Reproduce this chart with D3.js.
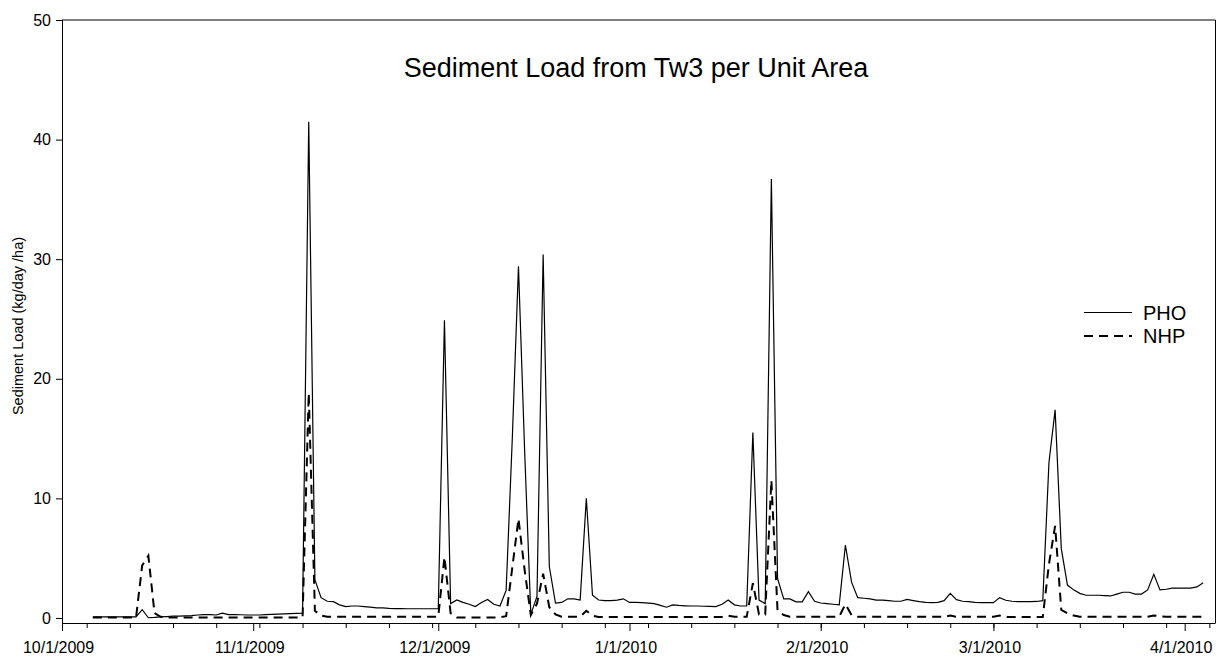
<!DOCTYPE html>
<html>
<head>
<meta charset="utf-8">
<script src="https://cdn.jsdelivr.net/npm/d3@7/dist/d3.min.js"></script>
<style>
  html, body { margin: 0; padding: 0; background: #fff; }
  svg { display: block; font-family: "Liberation Sans", Arial, sans-serif; }
</style>
</head>
<body>
<svg id="chart" width="1225" height="659"></svg>
<script>
// ---- data (daily values, first day 10/6/2009) ----
const startDate = "2009-10-06";
const pho = [
  0.1,0.1,0.1,0.1,0.1,0.1,0.1,0.1,
  0.7,0.02,0.05,0.1,0.12,0.15,0.15,0.18,0.2,0.25,0.28,0.28,0.25,0.4,0.28,0.28,0.27,0.25,0.25,0.25,0.28,0.3,0.32,0.34,0.36,0.38,0.4,
  41.5,3.2,1.7,1.4,1.36,1.1,0.95,1.0,1.0,0.95,0.9,0.85,0.84,0.8,0.78,0.78,0.77,0.77,0.77,0.77,0.77,0.77,
  24.9,1.2,1.5,1.3,1.15,0.95,1.3,1.55,1.15,1.0,2.3,15.0,29.4,14.0,0.3,1.8,30.4,4.3,1.25,1.3,1.6,1.6,1.5,10.0,1.9,1.5,1.45,1.45,1.5,1.6,
  1.3,1.3,1.28,1.25,1.2,1.05,0.9,1.1,1.05,1.02,1.0,1.0,0.98,0.97,0.95,1.15,1.5,1.1,1.0,1.0,15.5,1.5,1.2,36.7,3.3,1.6,1.6,1.35,1.35,2.2,1.4,
  1.25,1.2,1.15,1.1,6.1,3.0,1.7,1.65,1.6,1.5,1.5,1.45,1.4,1.4,1.55,1.45,1.36,1.3,1.28,1.3,1.45,2.06,1.53,1.4,1.36,1.3,1.28,1.28,
  1.28,1.7,1.48,1.4,1.36,1.36,1.36,1.38,1.45,13.0,17.4,5.8,2.75,2.35,2.06,1.9,1.9,1.9,1.87,1.84,2.0,2.15,2.15,2.0,2.0,2.35,3.65,2.35,2.4,2.5,2.5,2.5,2.5,2.6,2.95
];
const nhp = [
  0.03,0.03,0.03,0.03,0.03,0.03,0.03,0.03,
  4.4,5.2,0.4,0.1,0.05,0.05,0.05,0.05,0.05,0.05,0.05,0.05,0.05,0.05,0.05,0.05,0.05,0.05,0.05,0.05,0.05,0.05,0.05,0.05,0.05,0.05,0.05,
  18.8,0.6,0.2,0.1,0.1,0.1,0.1,0.1,0.1,0.1,0.1,0.1,0.1,0.1,0.1,0.1,0.1,0.1,0.1,0.1,0.1,0.1,
  5.1,0.4,0.05,0.05,0.05,0.05,0.05,0.05,0.05,0.05,0.15,4.2,8.3,4.0,0.25,1.2,3.7,0.9,0.3,0.1,0.1,0.1,0.1,0.6,0.2,0.08,0.08,0.08,0.08,0.08,
  0.08,0.08,0.08,0.08,0.08,0.08,0.08,0.08,0.08,0.08,0.08,0.08,0.08,0.08,0.08,0.08,0.2,0.1,0.1,0.1,2.9,0.3,0.3,11.5,0.6,0.25,0.1,0.1,0.1,0.1,0.1,
  0.1,0.1,0.1,0.12,1.15,0.25,0.1,0.1,0.1,0.1,0.1,0.1,0.1,0.1,0.1,0.1,0.1,0.1,0.1,0.1,0.1,0.2,0.1,0.1,0.1,0.1,0.1,0.1,
  0.1,0.2,0.08,0.08,0.08,0.08,0.08,0.08,0.08,4.5,7.7,0.67,0.4,0.2,0.1,0.1,0.1,0.1,0.1,0.1,0.1,0.1,0.1,0.1,0.1,0.1,0.2,0.15,0.1,0.1,0.1,0.1,0.1,0.1,0.1
];
const seriesNames = ["PHO", "NHP"];
const xTickLabels = ["10/1/2009","11/1/2009","12/1/2009","1/1/2010","2/1/2010","3/1/2010","4/1/2010"];
const yTicks = [0, 10, 20, 30, 40, 50];
const titleText = "Sediment Load from Tw3 per Unit Area";
const yLabelText = "Sediment Load (kg/day /ha)";

// ---- layout ----
const svg = d3.select("#chart");
const parse = d3.timeParse("%Y-%m-%d");
const parseTick = d3.timeParse("%m/%d/%Y");
const d0 = parse(startDate);
const dates = pho.map((_, i) => d3.timeDay.offset(d0, i));

const L = 62, R = 1215.5, T = 20, B = 623;
const x = d3.scaleTime()
  .domain([new Date(2009, 9, 1), new Date(2010, 3, 6)])
  .range([L, R]);
const y = d3.scaleLinear().domain([-0.42, 50]).range([B, T]);

const font = "'Liberation Sans', Arial, sans-serif";

// frame (top and right)
svg.append("path")
  .attr("d", `M${L},${T}H${R}V${B}`)
  .attr("fill", "none").attr("stroke", "#000").attr("stroke-width", 1);

// minor x ticks (weekly, Mondays)
const minorDates = d3.timeMonday.range(new Date(2009, 9, 2), new Date(2010, 3, 6));
svg.append("g")
  .attr("transform", `translate(0,${B})`)
  .call(d3.axisBottom(x).tickValues(minorDates).tickSize(5).tickSizeOuter(0).tickFormat(""))
  .call(g => g.select(".domain").remove());

// major x axis
const majorDates = xTickLabels.map(s => parseTick(s));
const xAxis = svg.append("g")
  .attr("transform", `translate(0,${B})`)
  .call(d3.axisBottom(x).tickValues(majorDates).tickSize(8).tickSizeOuter(0)
    .tickFormat((d, i) => xTickLabels[i]));
xAxis.select(".domain").attr("d", `M${L},0.5H${R}`);
xAxis.selectAll("text")
  .attr("font-family", font).attr("font-size", 16).attr("fill", "#000")
  .attr("dy", null).attr("y", 30).attr("dx", -4);

// y axis
const yAxis = svg.append("g")
  .attr("transform", `translate(${L},0)`)
  .call(d3.axisLeft(y).tickValues(yTicks).tickSize(6).tickSizeOuter(0).tickPadding(5));
yAxis.select(".domain").attr("d", `M0.5,${T}V${B}`);
yAxis.selectAll("text")
  .attr("font-family", font).attr("font-size", 16).attr("fill", "#000");

// lines
const line = d3.line().x((d, i) => x(dates[i])).y(d => y(d));
svg.append("path").datum(pho)
  .attr("d", line).attr("fill", "none").attr("stroke", "#000")
  .attr("stroke-width", 1.2).attr("stroke-linejoin", "miter");
svg.append("path").datum(nhp)
  .attr("d", line).attr("fill", "none").attr("stroke", "#000")
  .attr("stroke-width", 2).attr("stroke-dasharray", "9,6");

// title
svg.append("text")
  .attr("x", 636).attr("y", 77)
  .attr("text-anchor", "middle")
  .attr("font-family", font).attr("font-size", 27).attr("fill", "#000")
  .text(titleText);

// y label
svg.append("text")
  .attr("transform", `translate(23,${326}) rotate(-90)`)
  .attr("text-anchor", "middle")
  .attr("font-family", font).attr("font-size", 14.5).attr("fill", "#000")
  .text(yLabelText);

// legend
const legY = [312.5, 336];
const dashes = [null, "9,6"];
const widths = [1.2, 2];
seriesNames.forEach((name, i) => {
  svg.append("line")
    .attr("x1", 1084).attr("x2", 1132).attr("y1", legY[i]).attr("y2", legY[i])
    .attr("stroke", "#000").attr("stroke-width", widths[i])
    .attr("stroke-dasharray", dashes[i]);
  svg.append("text")
    .attr("x", 1143).attr("y", legY[i] + 7)
    .attr("font-family", font).attr("font-size", 20).attr("fill", "#000")
    .text(name);
});
</script>
</body>
</html>
